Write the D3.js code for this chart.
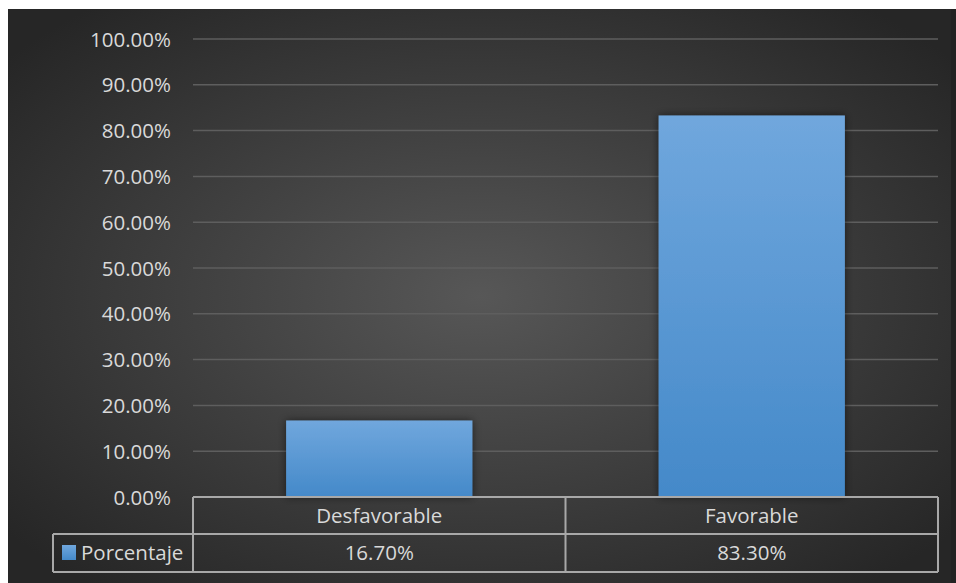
<!DOCTYPE html>
<html>
<head>
<meta charset="utf-8">
<script src="https://cdn.jsdelivr.net/npm/d3@7/dist/d3.min.js"></script>
<style>
  html, body { margin: 0; padding: 0; background: #ffffff; }
  svg { display: block; }
  text { font-family: "Open Sans", "DejaVu Sans", sans-serif; fill: #d9d9d9; }
</style>
</head>
<body>
<svg id="chart" width="956" height="583"></svg>
<script>
// Survey result shares
const categories = ["Desfavorable", "Favorable"];
const seriesName = "Porcentaje";
const values = [16.7, 83.3];
const tickValues = [0, 10, 20, 30, 40, 50, 60, 70, 80, 90, 100];

const W = 956, H = 583;
const svg = d3.select("#chart");
const defs = svg.append("defs");

// Dark panel with a soft central glow
const bgGrad = defs.append("radialGradient").attr("id", "bgGrad")
  .attr("cx", "50%").attr("cy", "50%").attr("r", "65%");
bgGrad.append("stop").attr("offset", "0%").attr("stop-color", "#575757");
bgGrad.append("stop").attr("offset", "100%").attr("stop-color", "#262626");

const barGrad = defs.append("linearGradient").attr("id", "barGrad")
  .attr("x1", 0).attr("y1", 0).attr("x2", 0).attr("y2", 1);
barGrad.append("stop").attr("offset", "0%").attr("stop-color", "#70a7dd");
barGrad.append("stop").attr("offset", "100%").attr("stop-color", "#4489c9");

const shadow = defs.append("filter").attr("id", "barShadow")
  .attr("x", "-20%").attr("y", "-20%").attr("width", "140%").attr("height", "140%");
shadow.append("feDropShadow").attr("dx", 0).attr("dy", 0)
  .attr("stdDeviation", 4).attr("flood-color", "#000").attr("flood-opacity", 0.55);

svg.append("rect").attr("x", 951).attr("y", 9).attr("width", 5).attr("height", H - 9)
  .attr("fill", "#222222");
svg.append("rect").attr("x", 8).attr("y", 9).attr("width", 943).attr("height", H - 9)
  .attr("fill", "url(#bgGrad)");

const plot = { left: 193, right: 938, top: 39, bottom: 497 };

const x = d3.scaleBand().domain(categories)
  .range([plot.left, plot.right]).paddingInner(0.5).paddingOuter(0.25);
const xCell = d3.scaleBand().domain(categories).range([plot.left, plot.right]);
const y = d3.scaleLinear().domain([0, 100]).range([plot.bottom, plot.top]);

// Gridlines
svg.append("g").selectAll("line").data(tickValues.filter(d => d > 0)).join("line")
  .attr("x1", plot.left).attr("x2", plot.right)
  .attr("y1", d => y(d)).attr("y2", d => y(d))
  .attr("stroke", "#5e5e5e").attr("stroke-width", 1.5);

// Y axis labels
const yAxis = d3.axisLeft(y).tickValues(tickValues)
  .tickFormat(d => d3.format(".2f")(d) + "%").tickSize(0).tickPadding(0);
const gy = svg.append("g").attr("transform", `translate(${plot.left - 22},0)`).call(yAxis);
gy.select(".domain").remove();
gy.selectAll("text").attr("font-size", 20.5).attr("fill", "#d9d9d9")
  .style("font-family", "\"Open Sans\", sans-serif").attr("dy", "0.35em");

// Bars
svg.append("g").selectAll("rect").data(values).join("rect")
  .attr("x", (d, i) => x(categories[i]))
  .attr("width", x.bandwidth())
  .attr("y", d => y(d))
  .attr("height", d => y(0) - y(d))
  .attr("fill", "url(#barGrad)")
  .attr("filter", "url(#barShadow)");

// Data table beneath the axis
const row1 = plot.bottom, row2 = 534, row3 = 572, legendLeft = 53;
const lineColor = "#a8a8a8";
const tbl = svg.append("g").attr("stroke", lineColor).attr("stroke-width", 2).attr("fill", "none");
tbl.append("line").attr("x1", plot.left).attr("x2", plot.right).attr("y1", row1).attr("y2", row1);
tbl.append("line").attr("x1", legendLeft).attr("x2", plot.right).attr("y1", row2).attr("y2", row2);
tbl.append("line").attr("x1", legendLeft).attr("x2", plot.right).attr("y1", row3).attr("y2", row3);
tbl.append("line").attr("x1", legendLeft).attr("x2", legendLeft).attr("y1", row2).attr("y2", row3);
const colEdges = [plot.left].concat(categories.map(c => xCell(c) + xCell.bandwidth()));
tbl.selectAll("line.col").data(colEdges).join("line").attr("class", "col")
  .attr("x1", d => d).attr("x2", d => d).attr("y1", row1).attr("y2", row3);

const fmt = d => d3.format(".2f")(d) + "%";
svg.append("g").selectAll("text").data(categories).join("text")
  .attr("x", d => xCell(d) + xCell.bandwidth() / 2)
  .attr("y", (row1 + row2) / 2).attr("dy", "0.35em")
  .attr("text-anchor", "middle").attr("font-size", 20.5).text(d => d);
svg.append("g").selectAll("text").data(values).join("text")
  .attr("x", (d, i) => xCell(categories[i]) + xCell.bandwidth() / 2)
  .attr("y", (row2 + row3) / 2).attr("dy", "0.35em")
  .attr("text-anchor", "middle").attr("font-size", 20.5).text(d => fmt(d));

// Legend key in the table's row header
svg.append("rect").attr("x", 62).attr("y", 545).attr("width", 14).attr("height", 15)
  .attr("fill", "url(#barGrad)");
svg.append("text").attr("x", 81).attr("y", (row2 + row3) / 2).attr("dy", "0.35em")
  .attr("font-size", 20.5).text(seriesName);
</script>
</body>
</html>
